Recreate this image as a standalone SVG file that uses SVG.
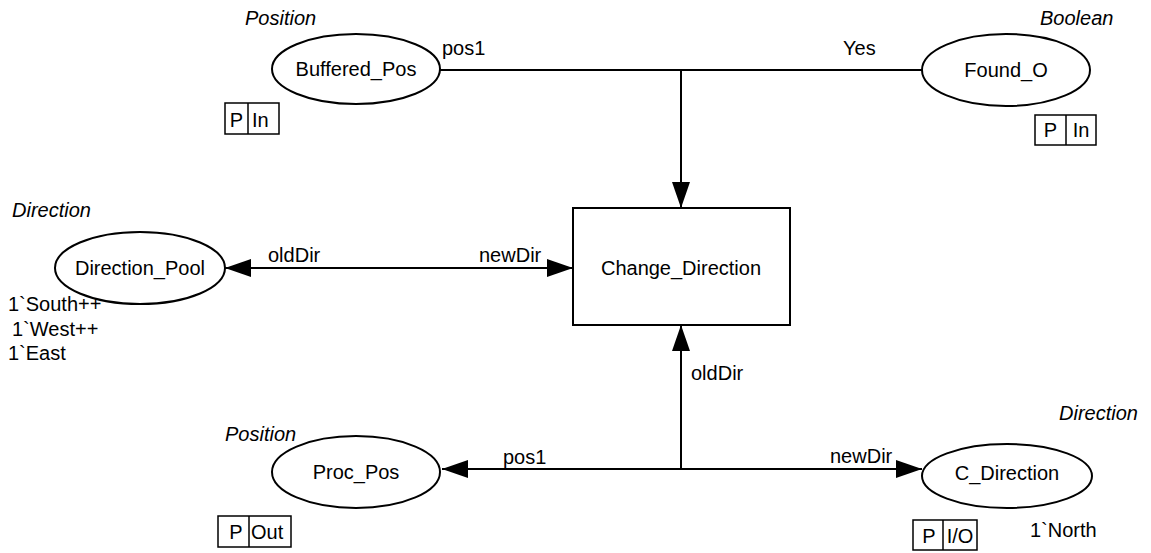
<svg xmlns="http://www.w3.org/2000/svg" width="1151" height="553" viewBox="0 0 1151 553">
<defs>
<marker id="arr" viewBox="0 0 26 18" refX="26" refY="9" markerWidth="26" markerHeight="18" markerUnits="userSpaceOnUse" orient="auto-start-reverse">
<path d="M0,0 L26,9 L0,18 Z" fill="#000"/>
</marker>
<style>
.sh{fill:#fff;stroke:#000;stroke-width:2}
.ln{fill:none;stroke:#000;stroke-width:2}
.t{font-family:"Liberation Sans",Arial,sans-serif;font-size:20px;fill:#000}
.c{text-anchor:middle}
.i{font-style:italic}
.pb{fill:#fff;stroke:#000;stroke-width:1.5}
</style>
</defs>
<rect width="1151" height="553" fill="#fff"/>
<g id="connectors">
<polyline class="ln" points="440,70 922,70"/>
<line class="ln" x1="681" y1="70" x2="681" y2="208" marker-end="url(#arr)"/>
<line class="ln" x1="225" y1="268" x2="573" y2="268" marker-start="url(#arr)" marker-end="url(#arr)"/>
<line class="ln" x1="681" y1="469" x2="681" y2="325" marker-end="url(#arr)"/>
<line class="ln" x1="442" y1="469" x2="922" y2="469" marker-start="url(#arr)" marker-end="url(#arr)"/>
<text class="t" x="442" y="55">pos1</text>
<text class="t" x="843" y="55">Yes</text>
<text class="t" x="268" y="262">oldDir</text>
<text class="t" x="479" y="262">newDir</text>
<text class="t" x="691" y="380">oldDir</text>
<text class="t" x="503" y="464">pos1</text>
<text class="t" x="830" y="463">newDir</text>
</g>
<g id="Buffered_Pos">
<text class="t i" x="245" y="25">Position</text>
<ellipse class="sh" cx="356" cy="69" rx="84" ry="35"/>
<text class="t c" x="356" y="76">Buffered_Pos</text>
<rect class="pb" x="225" y="103" width="54" height="31"/>
<line class="pb" x1="248" y1="103" x2="248" y2="134"/>
<text class="t c" x="236.5" y="127">P</text>
<text class="t" x="252" y="127">In</text>
</g>
<g id="Found_O">
<text class="t i" x="1040" y="25">Boolean</text>
<ellipse class="sh" cx="1006" cy="70" rx="84" ry="36"/>
<text class="t c" x="1006" y="77">Found_O</text>
<rect class="pb" x="1035" y="115" width="61" height="30"/>
<line class="pb" x1="1066" y1="115" x2="1066" y2="145"/>
<text class="t c" x="1050.5" y="137">P</text>
<text class="t c" x="1081" y="137">In</text>
</g>
<g id="Change_Direction">
<rect class="sh" x="573" y="208" width="217" height="117"/>
<text class="t c" x="681" y="275">Change_Direction</text>
</g>
<g id="Direction_Pool">
<text class="t i" x="12" y="217">Direction</text>
<ellipse class="sh" cx="140" cy="268" rx="85" ry="36"/>
<text class="t c" x="140" y="275">Direction_Pool</text>
<text class="t" x="8" y="311">1`South++</text>
<text class="t" x="12" y="336">1`West++</text>
<text class="t" x="8" y="360">1`East</text>
</g>
<g id="Proc_Pos">
<text class="t i" x="225" y="441">Position</text>
<ellipse class="sh" cx="356" cy="472" rx="84" ry="36"/>
<text class="t c" x="356" y="479">Proc_Pos</text>
<rect class="pb" x="218" y="516" width="73" height="31"/>
<line class="pb" x1="249" y1="516" x2="249" y2="547"/>
<text class="t c" x="236" y="539">P</text>
<text class="t" x="251" y="539">Out</text>
</g>
<g id="C_Direction">
<text class="t i" x="1059" y="420">Direction</text>
<ellipse class="sh" cx="1007" cy="476" rx="85" ry="32"/>
<text class="t c" x="1007" y="480">C_Direction</text>
<rect class="pb" x="913" y="520" width="64" height="30"/>
<line class="pb" x1="943" y1="520" x2="943" y2="550"/>
<text class="t c" x="929" y="543">P</text>
<text class="t c" x="960" y="543">I/O</text>
<text class="t" x="1030" y="537">1`North</text>
</g>
</svg>
